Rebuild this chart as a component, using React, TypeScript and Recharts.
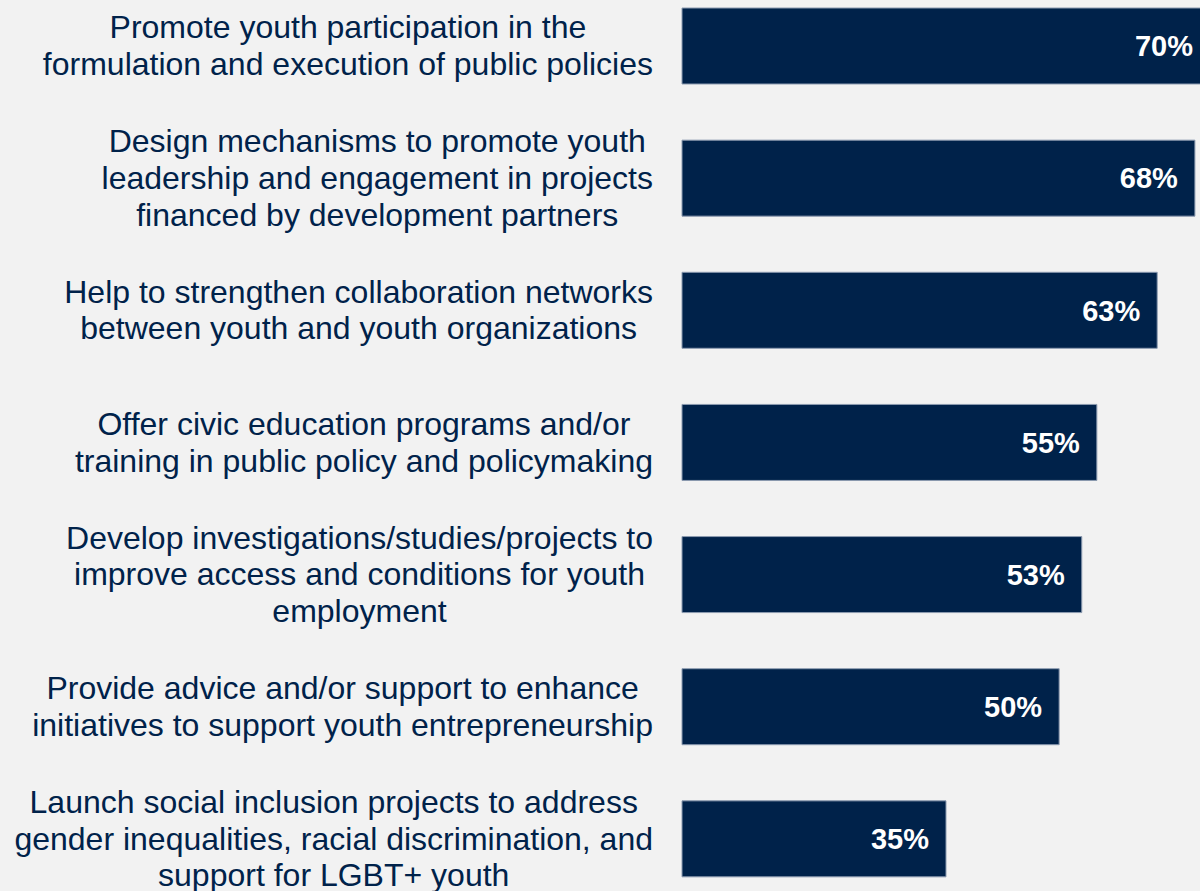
import { BarChart, Bar, XAxis, YAxis, LabelList } from 'recharts'

const categories = [
  'Promote youth participation in the\nformulation and execution of public policies',
  'Design mechanisms to promote youth\nleadership and engagement in projects\nfinanced by development partners',
  'Help to strengthen collaboration networks\nbetween youth and youth organizations',
  'Offer civic education programs and/or\ntraining in public policy and policymaking',
  'Develop investigations/studies/projects to\nimprove access and conditions for youth\nemployment',
  'Provide advice and/or support to enhance\ninitiatives to support youth entrepreneurship',
  'Launch social inclusion projects to address\ngender inequalities, racial discrimination, and\nsupport for LGBT+ youth',
]

const shares = [70, 68, 63, 55, 53, 50, 35]

const data = categories.map((name, i) => ({ name, value: shares[i] }))

const NAVY = '#00224a'
const FONT = '"Liberation Sans", Arial, sans-serif'
const LABEL_SIZE = 32
const LINE_HEIGHT = 36.7

let ctx: CanvasRenderingContext2D | null = null
const measure = (text: string) => {
  if (!ctx) {
    ctx = document.createElement('canvas').getContext('2d')
  }
  if (!ctx) return text.length * LABEL_SIZE * 0.5
  ctx.font = `${LABEL_SIZE}px ${FONT}`
  return ctx.measureText(text).width
}

// multi-line label: block right-aligned, lines centred inside the block
const CategoryTick = ({ x, y, payload }: any) => {
  const lines: string[] = String(payload.value).split('\n')
  const maxW = Math.max(...lines.map(measure))
  const cx = x - maxW / 2
  const first = y - ((lines.length - 1) / 2) * LINE_HEIGHT + LABEL_SIZE * 0.335
  return (
    <text
      x={cx}
      y={first}
      textAnchor="middle"
      fill={NAVY}
      fontSize={LABEL_SIZE}
      fontFamily={FONT}
    >
      {lines.map((line, i) => (
        <tspan key={i} x={cx} y={first + i * LINE_HEIGHT}>
          {line}
        </tspan>
      ))}
    </text>
  )
}

export default function App() {
  return (
    <div
      style={{
        position: 'absolute',
        left: 0,
        top: 0,
        width: 1200,
        height: 891,
        overflow: 'hidden',
        background: '#f2f2f2',
      }}
    >
      <div style={{ position: 'absolute', left: 0, top: -20 }}>
        <BarChart
          width={1210}
          height={925}
          data={data}
          layout="vertical"
          margin={{ top: 0, right: 0, bottom: 0, left: 0 }}
          barSize={76}
        >
          <XAxis type="number" domain={[0, 70]} hide />
          <YAxis
            type="category"
            dataKey="name"
            width={682}
            axisLine={false}
            tickLine={false}
            tickSize={0}
            tickMargin={29}
            interval={0}
            tick={<CategoryTick />}
          />
          <Bar
            dataKey="value"
            fill={NAVY}
            stroke="#8c9bb0"
            strokeWidth={1}
            isAnimationActive={false}
          >
            <LabelList
              dataKey="value"
              position="insideRight"
              offset={17}
              formatter={(v: any) => `${v}%`}
              fill="#ffffff"
              fontSize={29}
              fontWeight="bold"
              fontFamily={FONT}
            />
          </Bar>
        </BarChart>
      </div>
    </div>
  )
}
